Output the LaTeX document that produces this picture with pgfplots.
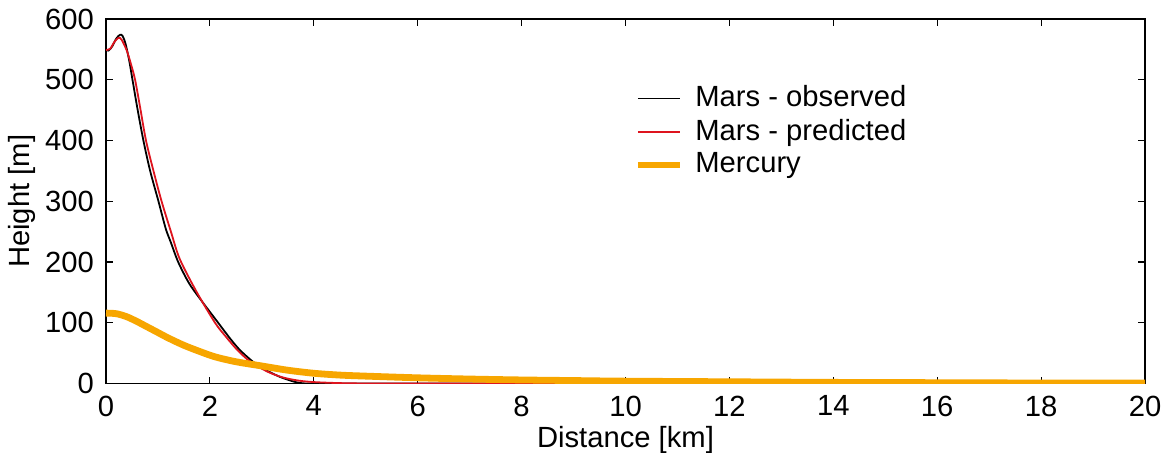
\documentclass[border=0pt]{standalone}
\usepackage{fontspec}
\setmainfont{Liberation Sans}
\usepackage{pgfplots}
\pgfplotsset{compat=1.18}
\definecolor{mercury}{RGB}{247,166,0}
\definecolor{marsred}{RGB}{222,20,30}
\newcommand{\fs}{\fontsize{14.6}{17.5}\selectfont}
\begin{document}
\fs
\begin{tikzpicture}
\useasboundingbox (-53pt,-34.7pt) rectangle (532.5pt,191.8pt);
\begin{axis}[
  scale only axis,
  width=519.5pt, height=182.3pt,
  xmin=0, xmax=20, ymin=0, ymax=600,
  xtick={0,2,...,20}, ytick={0,100,...,600},
  tick align=inside, tick pos=both,
  major tick length=3.5pt,
  axis line style={line width=0.75pt},
  every tick/.style={line width=0.6pt, black},
  /pgf/number format/assume math mode=true,
  ticklabel style={font=\fs},
  xticklabel style={yshift=-1pt},
  yticklabel style={xshift=-1pt},
  label style={font=\fs},
  xlabel={Distance [km]}, ylabel={Height [m]},
  xlabel style={yshift=5pt},
  ylabel style={yshift=-5pt},
  legend style={draw=none, fill=none, at={(0.5045,0.84)}, anchor=north west,
    font=\fs, row sep=0pt, inner sep=2pt},
  legend cell align=left,
  legend image code/.code={\draw[#1] (0pt,0pt) -- (21pt,0pt); \path (25pt,0pt);},
]
\addplot[black, line width=0.9pt, smooth, tension=0.5] coordinates {
(0,549) (0.05,548) (0.12,555) (0.2,568) (0.27,574) (0.32,572) (0.38,558)
(0.45,530) (0.51,500) (0.6,455) (0.72,400) (0.85,350) (1.01,300)
(1.15,255) (1.25,232) (1.39,200) (1.6,165) (1.85,135) (2.16,100)
(2.4,73) (2.58,55) (2.8,38) (2.96,28) (3.15,19) (3.35,11) (3.55,5) (3.73,1)
(4,0) (5,0) (20,0)};
\addlegendentry{Mars - observed}
\addplot[marsred, line width=0.9pt, smooth, tension=0.5] coordinates {
(0,549) (0.08,551) (0.16,562) (0.24,569) (0.3,566) (0.4,548) (0.48,526)
(0.56,500) (0.66,453) (0.77,400) (0.92,348) (1.07,300) (1.25,250)
(1.42,205) (1.75,150) (2.1,100) (2.3,78) (2.52,56) (2.72,40) (2.93,28)
(3.15,18) (3.41,10) (3.7,5) (4,2.5) (4.5,0.8) (5,0.2) (6,0) (20,0)};
\addlegendentry{Mars - predicted}
\addplot[mercury, line width=3.4pt, smooth, tension=0.5] coordinates {
(0,116) (0.2,115) (0.4,110) (0.6,102) (0.8,93) (1.0,84) (1.2,75) (1.5,63)
(1.8,53) (2.1,44) (2.5,36) (3.0,29) (3.5,22) (4,17) (4.5,14) (5,12.3)
(6,9.5) (7,7.5) (8,6) (9,5) (10,4) (12,3) (14,2) (16,1.5) (18,1) (20,0.8)};
\addlegendentry{Mercury}
\end{axis}
\end{tikzpicture}
\end{document}
